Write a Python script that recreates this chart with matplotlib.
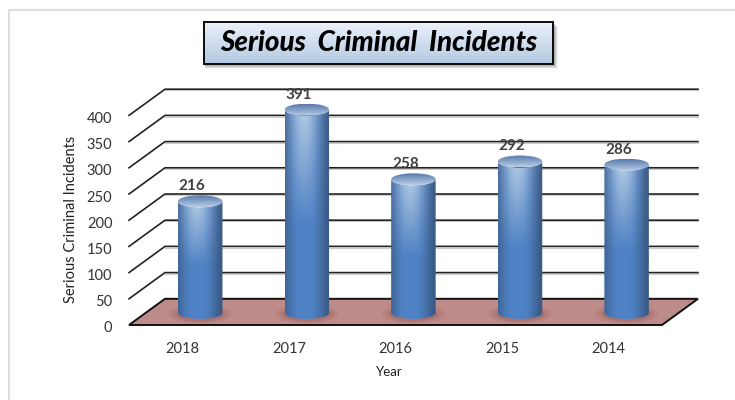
import numpy as np
import matplotlib
matplotlib.use("Agg")
import matplotlib.pyplot as plt
from matplotlib.patches import Polygon, Rectangle, Ellipse, PathPatch
from matplotlib.path import Path
from matplotlib.transforms import ScaledTranslation

# --- Data ---
years = ["2018", "2017", "2016", "2015", "2014"]
incidents = [216, 391, 258, 292, 286]
y_ticks = [0, 50, 100, 150, 200, 250, 300, 350, 400]

W, H = 735, 400
plt.rcParams["font.family"] = ["Lato", "DejaVu Sans"]

fig = plt.figure(figsize=(W / 100, H / 100), dpi=100, facecolor="white")

# front plane of the fake 3D box, in pixels
left, right, bottom, top = 129, 662, 325, 115.4
ax = fig.add_axes([left / W, 1 - bottom / H, (right - left) / W, (bottom - top) / H])
ax.set_xlim(-0.5, 4.5)
ax.set_ylim(0, 400)
ax.patch.set_visible(False)
for s in ax.spines.values():
    s.set_visible(False)

# depth of the box in data units
dx, dy = 0.3375, 50
x0, x1 = -0.5, 4.5


def px_x(p):
    return p / ((right - left) / 5)


def px_y(p):
    return p * 400 / (bottom - top)


# --- Floor and walls ---
ax.add_patch(Polygon([(x0, 0), (x1, 0), (x1 + dx, dy), (x0 + dx, dy)], closed=True,
                     facecolor="#bd8b88", edgecolor="#111111", lw=1.4, zorder=1, clip_on=False))
for v in y_ticks[1:]:
    ax.plot([x0, x0 + dx, x1 + dx], [v, v + dy, v + dy], color="#222222", lw=1.2,
            zorder=1, clip_on=False, solid_joinstyle="miter")
    ax.plot([x0 + dx, x1 + dx], [v + dy - px_y(1.2)] * 2, color="#cccccc", lw=0.8,
            zorder=0.9, clip_on=False)

# --- Cylinders ---
bar_w = px_x(44.5)
ell_h = px_y(12)
base_y = px_y(12)
top_base = px_y(10.5)
blue_edge = np.array([0.23, 0.36, 0.53])
blue_mid = np.array([0.31, 0.51, 0.77])
blue_light = np.array([0.70, 0.79, 0.89])

for i, v in enumerate(incidents):
    cx = i + 0.168
    # soft shadow on the floor
    for k, a in zip([1.45, 1.28, 1.12], [0.08, 0.13, 0.2]):
        ax.add_patch(Ellipse((cx, base_y + px_y(-1)), bar_w * k, ell_h * k * 1.1,
                             facecolor="#8a4a48", edgecolor="none", alpha=a, zorder=2))

    nx, ny = 60, 120
    xs = np.linspace(-1, 1, nx)
    ys = np.linspace(0, 1, ny)  # 0 at the top of the image
    img = np.zeros((ny, nx, 3))
    for r, t in enumerate(ys):
        # pale sheen fades out about half way down the bar
        fade = np.clip(1 - t / 0.55, 0, 1)
        for c, s in enumerate(xs):
            edge = np.clip((abs(s + 0.12) - 0.3) / 0.7, 0, 1) ** 1.4
            col = blue_mid * (1 - edge) + blue_edge * edge
            sheen = fade * np.exp(-((s + 0.15) / 0.6) ** 2)
            img[r, c] = col * (1 - sheen) + blue_light * sheen

    xl, xr = cx - bar_w / 2, cx + bar_w / 2
    rx, ry = bar_w / 2, ell_h / 2
    top_y = v + top_base
    im = ax.imshow(img, extent=[xl, xr, base_y - ry, top_y], aspect="auto", zorder=3,
                   interpolation="bilinear")
    # body outline: round bottom, round top
    k = 0.5523
    verts = [(xl, top_y), (xl, base_y),
             (xl, base_y - ry * k), (cx - rx * k, base_y - ry), (cx, base_y - ry),
             (cx + rx * k, base_y - ry), (xr, base_y - ry * k), (xr, base_y),
             (xr, top_y),
             (xr, top_y - ry * k), (cx + rx * k, top_y - ry), (cx, top_y - ry),
             (cx - rx * k, top_y - ry), (xl, top_y - ry * k), (xl, top_y),
             (xl, top_y)]
    codes = [Path.MOVETO, Path.LINETO,
             Path.CURVE4, Path.CURVE4, Path.CURVE4,
             Path.CURVE4, Path.CURVE4, Path.CURVE4,
             Path.LINETO,
             Path.CURVE4, Path.CURVE4, Path.CURVE4,
             Path.CURVE4, Path.CURVE4, Path.CURVE4,
             Path.CLOSEPOLY]
    body = PathPatch(Path(verts, codes), facecolor="none", edgecolor="none", clip_on=False)
    ax.add_patch(body)
    im.set_clip_box(fig.bbox)
    im.set_clip_path(body)

    # top cap: dark at the back, pale at the front rim
    cap_img = np.linspace(0, 1, 40)[:, None, None] * (np.array([0.72, 0.80, 0.90]) - np.array([0.34, 0.48, 0.67])) \
        + np.array([0.34, 0.48, 0.67])
    cap = ax.imshow(cap_img, extent=[xl, xr, top_y - ry, top_y + ry], aspect="auto", zorder=4,
                    interpolation="bilinear")
    cap_shape = Ellipse((cx, top_y), bar_w, ell_h, facecolor="none", edgecolor="none", clip_on=False)
    ax.add_patch(cap_shape)
    cap.set_clip_box(fig.bbox)
    cap.set_clip_path(cap_shape)

    # value label sits left of the bar centre, just above the cap
    ax.text(cx - px_x(8), top_y + ry + px_y(9), str(v), ha="center", va="center",
            fontsize=11, fontweight="bold", color="#404040", zorder=5, clip_on=False)

ax.set_xlim(-0.5, 4.5)
ax.set_ylim(0, 400)

# --- Axes text ---
ax.set_xticks(range(len(years)))
ax.set_xticklabels(years, fontsize=10.5, color="#333333")
ax.set_yticks(y_ticks)
ax.set_yticklabels([str(v) for v in y_ticks], fontsize=10.5, color="#333333")
ax.tick_params(axis="both", length=0)
ax.tick_params(axis="x", pad=12.5)
ax.tick_params(axis="y", pad=12)
for lbl in ax.get_yticklabels():
    lbl.set_transform(lbl.get_transform() + ScaledTranslation(0, -2 / 100, fig.dpi_scale_trans))

fig.text(389 / W, 1 - 372 / H, "Year", ha="center", va="center", fontsize=9.5, color="#222222")
fig.text(71 / W, 1 - 219 / H, "Serious Criminal Incidents", rotation=90, ha="center", va="center",
         fontsize=10.5, color="#222222")

# --- Title box with shadow and vertical gradient ---
bx0, bx1, by0, by1 = 204, 553, 21.5, 64
over = fig.add_axes([0, 0, 1, 1], zorder=10)
over.axis("off")
over.patch.set_visible(False)
for o, a in zip([5, 4, 3, 2], [0.08, 0.12, 0.16, 0.2]):
    over.add_patch(Rectangle((bx0 + 1, by0 + o), bx1 - bx0 + o - 1, by1 - by0, facecolor="#555555",
                             edgecolor="none", alpha=a))
grad = np.linspace(0, 1, 64)[:, None, None] * (np.array([0.70, 0.79, 0.89]) - np.array([0.93, 0.95, 0.98])) \
    + np.array([0.93, 0.95, 0.98])
over.imshow(grad, extent=[bx0, bx1, by1, by0], aspect="auto", zorder=2)
over.add_patch(Rectangle((bx0, by0), bx1 - bx0, by1 - by0, facecolor="none", edgecolor="#0a0a0a",
                         lw=1.4, zorder=3))
over.text((bx0 + bx1) / 2, (by0 + by1) / 2 + 0.5, "Serious  Criminal  Incidents", ha="center", va="center",
          fontsize=20, fontweight="black", style="italic", color="black", zorder=4)
over.set_xlim(0, W)
over.set_ylim(H, 0)

# chart frame: only the top and left edges show in the crop
fig.add_artist(plt.Line2D([8.5 / W, 8.5 / W, 1], [0, 1 - 9.5 / H, 1 - 9.5 / H], transform=fig.transFigure,
                          color="#dddddd", lw=1.5))

fig.savefig("out.png", dpi=100)
